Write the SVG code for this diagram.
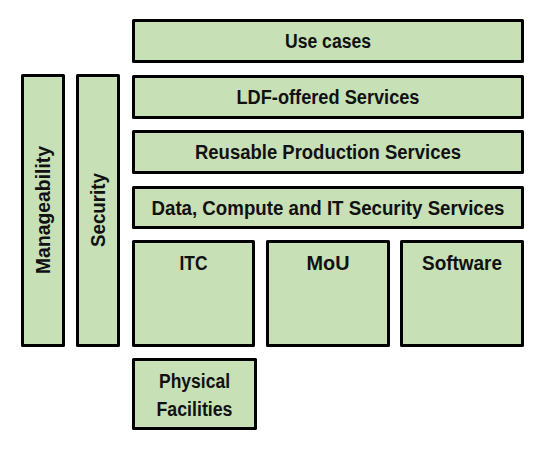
<svg xmlns="http://www.w3.org/2000/svg" width="544" height="450" viewBox="0 0 544 450">
<style>
.b{fill:#c7e0b6;stroke:#000;stroke-width:3;stroke-linejoin:round}
.t{font-family:"Liberation Sans",Arial,sans-serif;font-weight:bold;font-size:19.5px;fill:#111;text-anchor:middle}
</style>
<rect width="544" height="450" fill="#fff"/>
<g id="use-cases"><rect class="b" x="133.5" y="20.5" width="389" height="41"/><text class="t" x="328" y="48" textLength="86" lengthAdjust="spacingAndGlyphs">Use cases</text></g>
<g id="ldf"><rect class="b" x="133.5" y="76.5" width="389" height="41"/><text class="t" x="328" y="104" textLength="183" lengthAdjust="spacingAndGlyphs">LDF-offered Services</text></g>
<g id="reusable"><rect class="b" x="133.5" y="131.5" width="389" height="41"/><text class="t" x="328" y="159" textLength="266" lengthAdjust="spacingAndGlyphs">Reusable Production Services</text></g>
<g id="data"><rect class="b" x="133.5" y="187.5" width="389" height="40"/><text class="t" x="328" y="214.5" textLength="353" lengthAdjust="spacingAndGlyphs">Data, Compute and IT Security Services</text></g>
<g id="itc"><rect class="b" x="133.5" y="241.5" width="120" height="104"/><text class="t" x="193.5" y="270" textLength="28" lengthAdjust="spacingAndGlyphs">ITC</text></g>
<g id="mou"><rect class="b" x="267.5" y="241.5" width="121" height="104"/><text class="t" x="328" y="270" textLength="43" lengthAdjust="spacingAndGlyphs">MoU</text></g>
<g id="software"><rect class="b" x="401.5" y="241.5" width="121" height="104"/><text class="t" x="462" y="270" textLength="80" lengthAdjust="spacingAndGlyphs">Software</text></g>
<g id="physical"><rect class="b" x="133.5" y="359.5" width="122" height="69"/><text class="t" x="194.5" y="388" textLength="71" lengthAdjust="spacingAndGlyphs">Physical</text><text class="t" x="194.5" y="416" textLength="76" lengthAdjust="spacingAndGlyphs">Facilities</text></g>
<g id="manageability"><rect class="b" x="22.5" y="75.5" width="41" height="270"/><text class="t" transform="translate(50,210) rotate(-90)" x="0" y="0" textLength="128" lengthAdjust="spacingAndGlyphs">Manageability</text></g>
<g id="security"><rect class="b" x="77.5" y="75.5" width="41" height="270"/><text class="t" transform="translate(105,210) rotate(-90)" x="0" y="0" textLength="74" lengthAdjust="spacingAndGlyphs">Security</text></g>
<g id="connectors"></g>
</svg>
